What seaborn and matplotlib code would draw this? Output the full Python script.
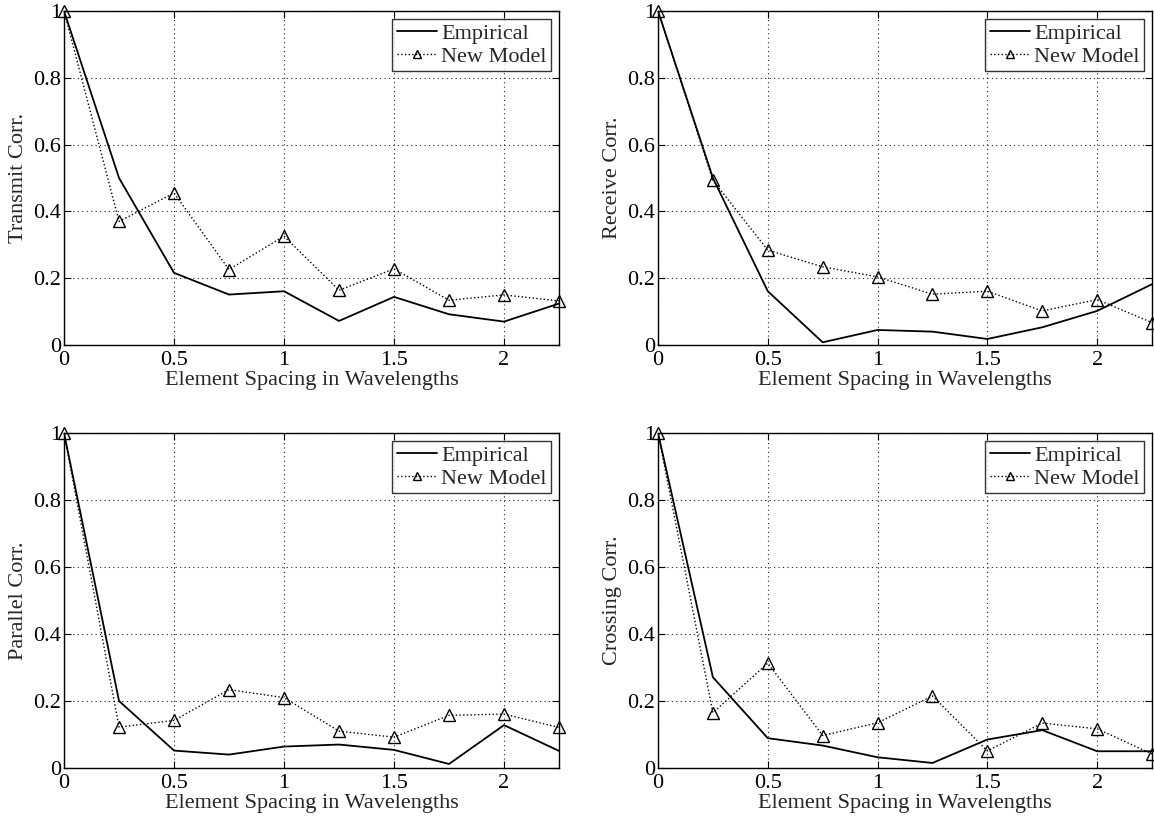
import matplotlib
matplotlib.use("Agg")
import matplotlib.pyplot as plt
import seaborn as sns
import numpy as np

sns.set_theme(style="white")
plt.rcParams['font.family'] = ['Liberation Serif', 'DejaVu Serif']
plt.rcParams['mathtext.fontset'] = 'stix'

spacing = [0, 0.25, 0.5, 0.75, 1.0, 1.25, 1.5, 1.75, 2.0, 2.25]

transmit_emp = [1.0, 0.50, 0.216, 0.151, 0.161, 0.072, 0.144, 0.092, 0.070, 0.124]
transmit_new = [1.0, 0.370, 0.455, 0.226, 0.326, 0.164, 0.228, 0.134, 0.150, 0.132]

receive_emp = [1.0, 0.50, 0.161, 0.008, 0.045, 0.040, 0.018, 0.053, 0.102, 0.182]
receive_new = [1.0, 0.493, 0.284, 0.234, 0.204, 0.152, 0.161, 0.102, 0.136, 0.067]

parallel_emp = [1.0, 0.200, 0.052, 0.040, 0.064, 0.070, 0.054, 0.012, 0.128, 0.051]
parallel_new = [1.0, 0.122, 0.142, 0.234, 0.210, 0.110, 0.092, 0.157, 0.161, 0.121]

crossing_emp = [1.0, 0.271, 0.089, 0.067, 0.032, 0.015, 0.085, 0.113, 0.050, 0.050]
crossing_new = [1.0, 0.165, 0.313, 0.097, 0.135, 0.215, 0.051, 0.134, 0.117, 0.042]

ylabels = ["Transmit Corr.", "Receive Corr.", "Parallel Corr.", "Crossing Corr."]
xlabel = "Element Spacing in Wavelengths"
xticks = [0, 0.5, 1, 1.5, 2]
xticklabels = ["0", "0.5", "1", "1.5", "2"]
yticks = [0, 0.2, 0.4, 0.6, 0.8, 1]
yticklabels = ["0", "0.2", "0.4", "0.6", "0.8", "1"]

panels = [
    (transmit_emp, transmit_new),
    (receive_emp, receive_new),
    (parallel_emp, parallel_new),
    (crossing_emp, crossing_new),
]

fig = plt.figure(figsize=(11.54, 8.22), dpi=100)
positions = [
    [0.0555, 0.5803, 0.4289, 0.4063],
    [0.5702, 0.5803, 0.4281, 0.4063],
    [0.0555, 0.0657, 0.4289, 0.4075],
    [0.5702, 0.0657, 0.4281, 0.4075],
]

fs = 16
for pos, (emp, new), ylab in zip(positions, panels, ylabels):
    ax = fig.add_axes(pos)
    ax.set_facecolor("white")
    sns.lineplot(x=spacing, y=emp, ax=ax, color="black", linewidth=1.3,
                 linestyle="-", label="Empirical")
    sns.lineplot(x=spacing, y=new, ax=ax, color="black", linewidth=1.0,
                 linestyle=":", marker="^", markersize=8,
                 markerfacecolor="none", markeredgecolor="black",
                 markeredgewidth=1.0, label="New Model", clip_on=False)
    ax.set_xlim(0, 2.25)
    ax.set_ylim(0, 1)
    ax.set_xticks(xticks)
    ax.set_xticklabels(xticklabels, fontsize=fs)
    ax.set_yticks(yticks)
    ax.set_yticklabels(yticklabels, fontsize=fs)
    ax.grid(True, color="#222222", linestyle=(0, (1, 3)), linewidth=0.8)
    ax.tick_params(direction="in", length=5, width=0.8, colors="black",
                   top=True, right=True, bottom=True, left=True)
    ax.tick_params(axis="x", pad=4)
    ax.tick_params(axis="y", pad=2)
    for s in ax.spines.values():
        s.set_visible(True)
        s.set_color("black")
        s.set_linewidth(1.0)
    ax.set_xlabel(xlabel, fontsize=fs, labelpad=1)
    ax.set_ylabel(ylab, fontsize=fs, labelpad=4)
    leg = ax.legend(loc="upper right", fontsize=fs, frameon=True, fancybox=False,
                    edgecolor="black", handlelength=1.8, handletextpad=0.2,
                    borderpad=0.2, labelspacing=0.1, borderaxespad=0.35,
                    markerscale=0.7)
    leg.get_frame().set_linewidth(1.0)

fig.savefig("out.png", dpi=100, facecolor="white")
